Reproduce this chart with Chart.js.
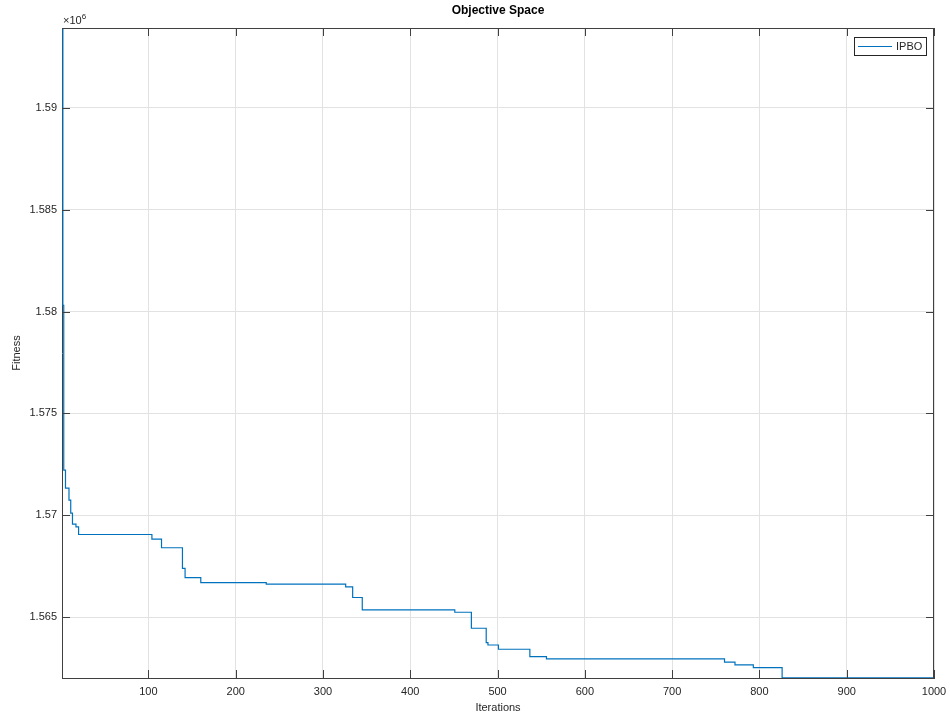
<!DOCTYPE html>
<html>
<head>
<meta charset="utf-8">
<script src="https://cdn.jsdelivr.net/npm/chart.js@4.4.1/dist/chart.umd.min.js"></script>
<style>
  body { margin: 0; background: #fff; }
  .wrap { width: 950px; height: 716px; position: relative; }
</style>
</head>
<body>
<div class="wrap"><canvas id="myChart"></canvas></div>
<script>
// breakpoints of the best-so-far curve (iteration where the value changes)
const iterations = [1, 2, 3, 5, 9, 11, 13, 17, 20, 104, 115, 139, 142, 160, 235, 326, 334, 345, 451, 470, 487, 489, 501, 537, 556, 760, 772, 793, 826, 1000];
const fitness = [1593900, 1580300, 1572220, 1571340, 1570750, 1570110, 1569570, 1569430, 1569060, 1568830, 1568410, 1567400, 1566940, 1566700, 1566630, 1566490, 1565970, 1565360, 1565245, 1564460, 1563755, 1563640, 1563430, 1563070, 1562956, 1562794, 1562662, 1562530, 1562025, 1562025];
const xTicks = [100, 200, 300, 400, 500, 600, 700, 800, 900, 1000];
const yTicks = [1565000, 1570000, 1575000, 1580000, 1585000, 1590000];
const seriesName = 'IPBO';

const axisColor = '#404040';
const gridColor = '#e2e2e2';
const lineColor = '#0072BD';
const font = 'Liberation Sans, Arial, Helvetica, sans-serif';

const points = iterations.map((x, i) => ({x: x, y: fitness[i]}));

// box, inward ticks, exponent label and legend like a MATLAB axes
const matlabAxes = {
  id: 'matlabAxes',
  afterDraw(chart) {
    const ctx = chart.ctx;
    const a = chart.chartArea;
    const xs = chart.scales.x, ys = chart.scales.y;
    const tl = 8;
    ctx.save();
    ctx.strokeStyle = axisColor;
    ctx.lineWidth = 1;
    ctx.beginPath();
    ctx.moveTo(a.left, a.top + 0.5); ctx.lineTo(a.right, a.top + 0.5);
    ctx.moveTo(a.right - 0.5, a.top); ctx.lineTo(a.right - 0.5, a.bottom);
    xTicks.forEach(v => {
      const px = Math.round(xs.getPixelForValue(v)) + 0.5;
      ctx.moveTo(px, a.bottom); ctx.lineTo(px, a.bottom - tl);
      ctx.moveTo(px, a.top); ctx.lineTo(px, a.top + tl);
    });
    yTicks.forEach(v => {
      const py = Math.round(ys.getPixelForValue(v)) + 0.5;
      ctx.moveTo(a.left, py); ctx.lineTo(a.left + tl, py);
      ctx.moveTo(a.right, py); ctx.lineTo(a.right - tl, py);
    });
    ctx.stroke();

    // x10^6
    ctx.fillStyle = '#262626';
    ctx.textBaseline = 'alphabetic';
    ctx.textAlign = 'left';
    ctx.font = '11px ' + font;
    ctx.fillText('\u00d710', a.left + 1, a.top - 4);
    const w = ctx.measureText('\u00d710').width;
    ctx.font = '8px ' + font;
    ctx.fillText('6', a.left + 1 + w, a.top - 9);

    // legend
    const lx = 854, ly = 37, lw = 72, lh = 18;
    ctx.fillStyle = '#fff';
    ctx.fillRect(lx, ly, lw, lh);
    ctx.strokeStyle = '#262626';
    ctx.strokeRect(lx + 0.5, ly + 0.5, lw, lh);
    ctx.strokeStyle = lineColor;
    ctx.lineWidth = 1.2;
    ctx.beginPath();
    ctx.moveTo(lx + 4, ly + 9.5); ctx.lineTo(lx + 38, ly + 9.5);
    ctx.stroke();
    ctx.fillStyle = '#262626';
    ctx.font = '11px ' + font;
    ctx.textBaseline = 'middle';
    ctx.fillText(seriesName, lx + 42, ly + 10);
    ctx.restore();
  }
};

new Chart('myChart', {
  type: 'line',
  data: {
    datasets: [{
      label: seriesName,
      data: points,
      borderColor: lineColor,
      borderWidth: 1.2,
      pointRadius: 0,
      stepped: 'before',
      tension: 0
    }]
  },
  options: {
    responsive: true,
    maintainAspectRatio: false,
    animation: false,
    layout: {padding: {left: 0, right: 16, top: 0, bottom: 0}},
    plugins: {
      legend: {display: false},
      tooltip: {enabled: false},
      title: {
        display: true,
        text: 'Objective Space',
        fullSize: false,
        color: '#000',
        font: {family: font, size: 12, weight: 'bold'},
        padding: {top: 3, bottom: 10.6}
      }
    },
    scales: {
      x: {
        type: 'linear',
        min: 1,
        max: 1000,
        afterBuildTicks: s => { s.ticks = xTicks.map(v => ({value: v})); },
        afterFit: s => { s.height = 38; s.paddingLeft = 0; s.paddingRight = 0; },
        grid: {color: gridColor, drawTicks: false},
        border: {color: axisColor, width: 1},
        ticks: {color: '#262626', padding: 7, maxRotation: 0, font: {family: font, size: 11},
          callback: v => String(v)},
        title: {display: true, text: 'Iterations', color: '#262626', padding: {top: 0, bottom: 1}, font: {family: font, size: 11}}
      },
      y: {
        min: 1562020,
        max: 1593910,
        afterBuildTicks: s => { s.ticks = yTicks.map(v => ({value: v})); },
        afterFit: s => { s.width = 62; s.paddingTop = 0; s.paddingBottom = 0; },
        grid: {color: gridColor, drawTicks: false},
        border: {color: axisColor, width: 1},
        ticks: {
          color: '#262626', padding: 5, font: {family: font, size: 11},
          callback: v => String(v / 1e6)
        },
        title: {display: true, text: 'Fitness', color: '#262626', padding: {top: 10, bottom: 0}, font: {family: font, size: 11}}
      }
    }
  },
  plugins: [matlabAxes]
});
</script>
</body>
</html>
